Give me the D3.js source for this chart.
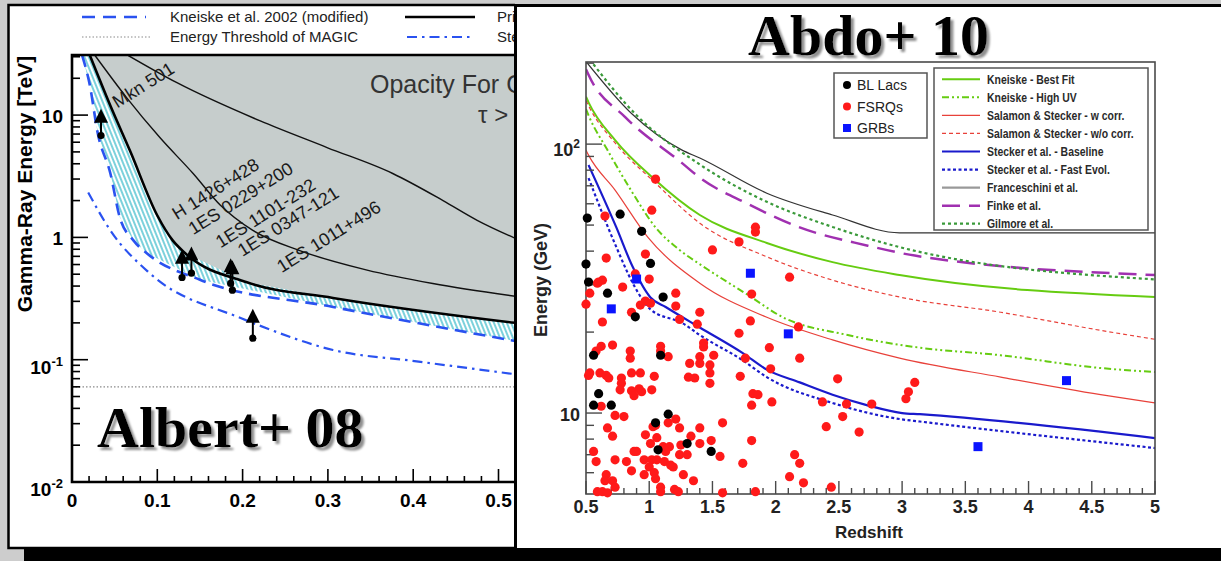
<!DOCTYPE html>
<html>
<head>
<meta charset="utf-8">
<script src="https://cdn.jsdelivr.net/npm/d3@7"></script>
<style>
  body { margin: 0; background: #cdcdcd; overflow: hidden; }
  svg { display: block; font-family: "Liberation Sans", Arial, sans-serif; }
</style>
</head>
<body>
<svg></svg>
<script>
// ---------- left panel : Albert+ 08 (redshift vs energy in TeV)
const albertKneiske = [[0.012,30.7],[0.021,17.4],[0.030,7.2],[0.045,3.33],[0.056,1.46],[0.072,0.945],[0.088,0.74],[0.15,0.45],[0.306,0.27],[0.52,0.142]];
const albertPrimack = [[0.021,30.7],[0.045,11.9],[0.068,5.1],[0.10,1.51],[0.118,0.945],[0.132,0.75],[0.205,0.43],[0.306,0.32],[0.52,0.2]];
const albertStecker = [[0.019,2.33],[0.045,1.14],[0.091,0.51],[0.197,0.22],[0.22,0.19],[0.306,0.12],[0.404,0.097],[0.52,0.076]];
const albertTauA = [[0.027,30.7],[0.064,13.9],[0.103,6.55],[0.142,3.33],[0.174,1.83],[0.212,1.14],[0.267,0.78],[0.346,0.54],[0.423,0.42],[0.52,0.33]];
const albertTauB = [[0.066,30.7],[0.123,18.4],[0.220,9.0],[0.299,5.43],[0.376,3.33],[0.435,2.0],[0.475,1.38],[0.52,0.98]];
const magicThreshold = 0.06;

const albertSources = [
  { name: "Mkn 501",      z: 0.034, e: 6.8,  lim: 9.5  },
  { name: "H 1426+428",   z: 0.129, e: 0.47, lim: 0.67 },
  { name: "1ES 0229+200", z: 0.140, e: 0.51, lim: 0.71 },
  { name: "1ES 1101-232", z: 0.186, e: 0.42, lim: 0.57 },
  { name: "1ES 0347-121", z: 0.188, e: 0.37, lim: 0.55 },
  { name: "1ES 1011+496", z: 0.212, e: 0.15, lim: 0.22 }
];
// where each source name is written (z, TeV)
const albertLabelAt = [[0.053,11.3],[0.123,1.38],[0.142,1.04],[0.174,0.81],[0.200,0.69],[0.246,0.51]];

const albertXTicks = [0, 0.1, 0.2, 0.3, 0.4, 0.5];
const albertXLabels = ["0", "0.1", "0.2", "0.3", "0.4", "0.5"];
const albertYTicks = [0.01, 0.1, 1, 10];
const albertYLabels = [["10","-2"], ["10","-1"], ["1",""], ["10",""]];
const albertLegend = ["Kneiske et al. 2002 (modified)", "Primack et al. 2005", "Energy Threshold of MAGIC", "Stecker et al. 2006"];

// ---------- right panel : Abdo+ 10 (redshift vs energy in GeV)
const abdoModels = ["Kneiske - Best Fit", "Kneiske - High UV", "Salamon & Stecker - w corr.", "Salamon & Stecker - w/o corr.",
  "Stecker et al. - Baseline", "Stecker et al. - Fast Evol.", "Franceschini et al.", "Finke et al.", "Gilmore et al."];

const kneiskeBest = [[0.5,150],[0.52,143],[0.73,103.5],[1.03,74.8],[1.40,54.5],[1.93,42.9],[2.45,36.4],[2.98,32.6],[5.0,27]];
const kneiskeHighUV = [[0.5,135],[0.52,128],[0.67,95],[0.87,65.7],[1.05,49],[1.24,40.4],[1.43,35],[1.78,27.5],[2.05,22.8],[2.57,19.5],[3.1,17.6],[3.78,16.4],[4.57,14.7],[5.0,14.2]];
const salamonCorr = [[0.5,95],[0.52,91],[0.73,67.5],[0.99,45],[1.40,30.4],[1.93,22.7],[2.45,18.7],[2.98,16.0],[3.78,13.6],[4.57,11.7],[5.0,10.9]];
const salamonNoCorr = [[0.5,145],[0.53,136],[0.73,101],[1.05,71.6],[1.40,50.8],[1.93,38.1],[2.45,31.2],[2.98,27.0],[3.78,23.7],[4.57,20.3],[5.0,18.8]];
const steckerBase = [[0.52,83.6],[0.74,49],[0.87,34.9],[1.01,26.9],[1.13,24.8],[1.40,20.8],[1.74,16.7],[1.93,14.5],[2.19,13.0],[2.45,11.7],[2.72,10.7],[3.0,10.0],[3.14,9.9],[5.0,8.07]];
const steckerFast = [[0.52,74.8],[0.74,41.4],[0.87,30.4],[1.01,24.3],[1.27,21.5],[1.40,19.5],[1.74,15.7],[1.93,13.6],[2.45,10.9],[2.98,9.5],[3.14,9.3],[5.0,7.41]];
const franceschini = [[0.5,203],[0.86,130],[1.26,95],[1.40,88.8],[1.93,65.7],[2.45,54.5],[2.98,46.8],[5.0,46.8]];
const finke = [[0.5,190],[0.52,181],[0.81,126],[1.26,85],[1.40,75],[1.78,60],[2.19,49],[2.72,42],[3.1,38.5],[5.0,32.6]];
const gilmore = [[0.5,215],[0.9,128],[1.4,84],[1.93,61],[2.45,49.2],[2.98,41.4],[5.0,31.4]];
const abdoCurves = [kneiskeBest, kneiskeHighUV, salamonCorr, salamonNoCorr, steckerBase, steckerFast, franceschini, finke, gilmore];

const blLacs = [[0.51,53.1],[0.77,54.9],[0.94,47.4],[0.50,35.8],[1.01,36.0],[0.52,30.7],[0.67,27.9],[1.11,27.0],[0.89,22.8],
  [0.56,16.4],[1.09,16.4],[0.60,11.8],[0.56,10.7],[0.70,10.7],[1.15,9.9],[1.05,9.2],[1.07,7.3],[1.30,7.7],[1.49,7.2]];

const fsrqs = [[1.05,74.1],[1.02,56.8],[0.65,54.0],[0.66,37.7],[0.97,39.0],[1.00,31.5],[0.60,30.7],[0.63,31.2],[0.59,30.4],[0.79,29.4],
  [0.53,27.9],[0.50,25.4],[1.21,27.9],[1.21,25.0],[0.97,26.1],[0.93,25.2],[1.01,25.6],[0.86,23.7],[0.63,21.8],[1.24,22.3],[1.38,21.4],
  [1.40,23.7],[0.89,32.9],[0.58,17.0],[0.62,17.7],[0.71,17.9],[0.85,17.0],[0.85,16.0],[1.09,17.7],[1.09,17.0],[1.15,16.2],[1.32,15.3],
  [1.40,16.2],[1.40,15.3],[0.52,13.8],[0.53,14.1],[0.61,14.1],[0.66,13.8],[0.68,13.5],[0.78,13.5],[0.78,12.9],[0.77,12.2],[0.86,14.1],
  [0.93,14.1],[1.04,13.7],[0.86,12.1],[0.88,11.6],[0.92,12.3],[0.94,12.0],[1.02,12.2],[1.31,13.6],[1.36,13.5],[0.62,10.6],[0.73,9.8],
  [0.80,9.7],[0.67,8.8],[0.71,8.2],[1.21,9.5],[1.24,8.8],[1.15,9.2],[1.03,8.9],[1.05,9.0],[0.97,8.3],[1.06,8.1],[1.01,7.7],[1.33,8.2],
  [1.40,8.8],[1.40,7.7],[1.11,7.5],[1.16,7.5],[1.13,7.2],[1.25,7.6],[1.24,7.0],[1.30,7.0],[0.56,7.2],[0.58,6.6],[0.73,6.7],[0.82,6.6],
  [0.88,7.2],[0.90,7.2],[0.96,6.7],[1.02,6.7],[1.06,6.7],[1.12,6.6],[1.00,6.3],[1.04,6.0],[1.05,5.7],[1.19,6.3],[1.17,6.4],[0.86,6.1],
  [0.96,5.9],[0.66,5.9],[0.65,5.6],[0.71,5.6],[0.73,5.3],[1.27,5.9],[1.35,5.6],[0.59,5.1],[0.63,5.1],[0.67,5.05],[1.09,5.3],[1.09,5.1],
  [1.20,5.2],[1.23,5.1],[1.84,49.1],[1.84,47.1],[1.71,43.3],[1.50,40.4],[2.11,32.0],[1.81,27.7],[1.80,22.0],[1.71,19.8],[2.18,20.9],
  [1.43,18.2],[1.43,17.6],[1.51,16.4],[1.95,17.5],[1.76,16.0],[2.19,16.0],[1.96,14.6],[1.48,15.1],[1.48,14.1],[1.48,12.9],[1.72,13.7],
  [2.49,13.4],[1.82,11.8],[1.86,11.7],[1.81,10.7],[1.97,11.0],[2.37,11.0],[2.56,10.8],[2.76,10.8],[2.53,9.7],[2.40,8.9],[2.66,8.5],
  [1.58,9.2],[1.49,7.9],[1.81,7.9],[1.56,6.9],[1.74,6.5],[2.15,7.0],[2.19,6.5],[2.11,5.8],[2.22,5.5],[2.44,5.3],[1.58,5.05],[1.84,5.1],
  [3.10,13.0],[3.05,12.0],[3.03,11.3]];

const grbs = [[0.90,31.5],[0.70,24.4],[1.80,33.1],[2.10,19.7],[4.30,13.2],[3.60,7.5]];

const abdoXTicks = [0.5, 1, 1.5, 2, 2.5, 3, 3.5, 4, 4.5, 5];
const abdoYTicks = [10, 100];
const abdoYLabels = [["10",""], ["10","2"]];
const sourceClasses = ["BL Lacs", "FSRQs", "GRBs"];

// ---------- styles
const modelStyle = [
  { color: "#66cc11", width: 2,   dash: null },
  { color: "#66cc11", width: 2,   dash: "7,3,2,3,2,3" },
  { color: "#e8413a", width: 1.2, dash: null },
  { color: "#e8413a", width: 1.2, dash: "4,3" },
  { color: "#1a1acc", width: 2.2, dash: null },
  { color: "#1a1acc", width: 2.2, dash: "3,2.5" },
  { color: "#333333", width: 1.2, dash: null, legend: "#999999" },
  { color: "#a030b0", width: 2.5, dash: "18,9" },
  { color: "#3a9a3a", width: 2.2, dash: "3,3" }
];
const blue = "#2a52f0";

const svg = d3.select("svg").attr("width", 1221).attr("height", 561);
const defs = svg.append("defs");

defs.append("clipPath").attr("id", "leftPanelClip")
  .append("rect").attr("x", 0).attr("y", 0).attr("width", 515).attr("height", 561);
defs.append("clipPath").attr("id", "albertPlotClip")
  .append("rect").attr("x", 72).attr("y", 55).attr("width", 512).attr("height", 427);
defs.append("clipPath").attr("id", "abdoPlotClip")
  .append("rect").attr("x", 586).attr("y", 62).attr("width", 569).attr("height", 432);

const hatch = defs.append("pattern").attr("id", "hatch")
  .attr("patternUnits", "userSpaceOnUse").attr("width", 4).attr("height", 4)
  .attr("patternTransform", "rotate(-22)");
hatch.append("rect").attr("width", 4).attr("height", 4).attr("fill", "white");
hatch.append("line").attr("x1", 1).attr("y1", -1).attr("x2", 1).attr("y2", 5)
  .attr("stroke", "#35b9c9").attr("stroke-width", 1.3);

// soft grey drop shadow for the big titles
defs.append("filter").attr("id", "titleShadow").attr("x", "-10%").attr("y", "-20%")
  .attr("width", "130%").attr("height", "150%")
  .append("feDropShadow").attr("dx", 3).attr("dy", 3).attr("stdDeviation", 0.8)
  .attr("flood-color", "#8f8f8f").attr("flood-opacity", 1);

svg.append("rect").attr("width", 1221).attr("height", 561).attr("fill", "#cdcdcd");

function titleText(g, x, y, txt, size) {
  g.append("text").attr("x", x).attr("y", y).text(txt)
    .attr("font-family", "'Liberation Serif', 'Times New Roman', serif")
    .attr("font-weight", "bold").attr("font-size", size).attr("fill", "black")
    .attr("filter", "url(#titleShadow)");
}

// =============== Albert+ 08
function drawAlbert() {
  const g = svg.append("g").attr("clip-path", "url(#leftPanelClip)");
  g.append("rect").attr("x", 8.5).attr("y", 5).attr("width", 700).attr("height", 543)
    .attr("fill", "white").attr("stroke", "black").attr("stroke-width", 2.5);

  const x = d3.scaleLinear().domain([0, 0.6]).range([72, 72 + 0.6 * 853]);
  const y = d3.scaleLog().domain([0.01, 31]).range([482, 55]);
  const line = d3.line().x(d => x(d[0])).y(d => y(d[1])).curve(d3.curveMonotoneX);
  const plot = g.append("g").attr("clip-path", "url(#albertPlotClip)");

  // opaque region above the black curve
  plot.append("path")
    .datum(albertPrimack)
    .attr("d", d3.area().x(d => x(d[0])).y0(y.range()[1]).y1(d => y(d[1])).curve(d3.curveMonotoneX))
    .attr("fill", "#c6cdcc");

  // hatched band between Kneiske and the black curve
  plot.append("path")
    .datum(albertKneiske.concat(albertPrimack.slice().reverse()))
    .attr("d", d3.line().x(d => x(d[0])).y(d => y(d[1])))
    .attr("fill", "url(#hatch)");

  plot.append("line").attr("x1", x(0)).attr("x2", x(0.6))
    .attr("y1", y(magicThreshold)).attr("y2", y(magicThreshold))
    .attr("stroke", "#8a8a8a").attr("stroke-width", 1.2).attr("stroke-dasharray", "1.5,2");

  [albertTauA, albertTauB].forEach(c => {
    plot.append("path").datum(c).attr("d", line)
      .attr("fill", "none").attr("stroke", "#111").attr("stroke-width", 1.4);
  });
  plot.append("path").datum(albertPrimack).attr("d", line)
    .attr("fill", "none").attr("stroke", "black").attr("stroke-width", 2.6);
  plot.append("path").datum(albertKneiske).attr("d", line)
    .attr("fill", "none").attr("stroke", blue).attr("stroke-width", 2.6).attr("stroke-dasharray", "12,7");
  plot.append("path").datum(albertStecker).attr("d", line)
    .attr("fill", "none").attr("stroke", blue).attr("stroke-width", 2.2).attr("stroke-dasharray", "10,5,2.5,5");

  // source names
  albertSources.forEach((s, i) => {
    const p = albertLabelAt[i];
    g.append("text")
      .attr("transform", `translate(${x(p[0])},${y(p[1])}) rotate(-32)`)
      .attr("font-size", 18).attr("fill", "#1a1a1a").text(s.name);
  });

  // frame and ticks
  g.append("path").attr("d", `M${x(0.6)},55 H72 V482 H${x(0.6)}`)
    .attr("fill", "none").attr("stroke", "black").attr("stroke-width", 2.6);
  const ticks = g.append("g").attr("stroke", "black").attr("stroke-width", 1.6);
  d3.range(0, 0.61, 0.02).forEach(v => {
    const major = Math.abs(v * 10 - Math.round(v * 10)) < 1e-6;
    ticks.append("line").attr("x1", x(v)).attr("x2", x(v))
      .attr("y1", 482).attr("y2", major ? 469 : 476);
  });
  [-2, -1, 0, 1].forEach(k => {
    d3.range(1, 10).forEach(m => {
      const v = m * Math.pow(10, k);
      if (v > 31) return;
      ticks.append("line").attr("y1", y(v)).attr("y2", y(v))
        .attr("x1", 72).attr("x2", m === 1 ? 88 : 80);
    });
  });

  albertXTicks.forEach((v, i) => {
    g.append("text").attr("x", x(v)).attr("y", 507).attr("text-anchor", "middle")
      .attr("font-size", 19).attr("font-weight", "bold").text(albertXLabels[i]);
  });
  albertYTicks.forEach((v, i) => {
    const lab = albertYLabels[i];
    const t = g.append("text").attr("x", 63).attr("text-anchor", "end")
      .attr("font-size", 19).attr("font-weight", "bold");
    if (lab[1]) {
      t.attr("y", y(v) + 14);
      t.append("tspan").text(lab[0]);
      t.append("tspan").attr("dy", -8).attr("font-size", 13).text(lab[1]);
    } else {
      t.attr("y", y(v) + 8).text(lab[0]);
    }
  });

  g.append("text").attr("transform", "translate(32,184) rotate(-90)")
    .attr("text-anchor", "middle").attr("font-size", 21).attr("font-weight", "bold")
    .text("Gamma-Ray Energy [TeV]");

  g.append("text").attr("x", 370).attr("y", 93).attr("font-size", 25).attr("fill", "#333")
    .text("Opacity For Gamma Rays");
  g.append("text").attr("x", 478).attr("y", 123).attr("font-size", 24).attr("fill", "#333")
    .text("τ > 1");

  // lower limits: dot, stem, arrow head
  albertSources.forEach(s => {
    const cx = x(s.z), y0 = y(s.e), y1 = y(s.lim);
    g.append("line").attr("x1", cx).attr("x2", cx).attr("y1", y0).attr("y2", y1)
      .attr("stroke", "black").attr("stroke-width", 2);
    g.append("circle").attr("cx", cx).attr("cy", y0).attr("r", 3.6).attr("fill", "black");
    g.append("path").attr("d", `M${cx},${y1 - 9} L${cx + 7},${y1 + 5} L${cx - 7},${y1 + 5} Z`)
      .attr("fill", "black");
  });

  // legend on top
  const lg = g.append("g").attr("font-size", 15).attr("fill", "#222");
  lg.append("line").attr("x1", 82).attr("x2", 146).attr("y1", 17).attr("y2", 17)
    .attr("stroke", blue).attr("stroke-width", 2.6).attr("stroke-dasharray", "13,8");
  lg.append("line").attr("x1", 405).attr("x2", 475).attr("y1", 17).attr("y2", 17)
    .attr("stroke", "black").attr("stroke-width", 2.6);
  lg.append("line").attr("x1", 82).attr("x2", 152).attr("y1", 37).attr("y2", 37)
    .attr("stroke", "#8a8a8a").attr("stroke-width", 1.2).attr("stroke-dasharray", "1.5,2");
  lg.append("line").attr("x1", 407).attr("x2", 473).attr("y1", 37).attr("y2", 37)
    .attr("stroke", blue).attr("stroke-width", 2.2).attr("stroke-dasharray", "10,5,2.5,5");
  [[170, 22], [497, 22], [170, 42], [497, 42]].forEach((p, i) => {
    lg.append("text").attr("x", p[0]).attr("y", p[1]).text(albertLegend[i]);
  });

  titleText(g, 97, 447, "Albert+ 08", 58);
}

// =============== Abdo+ 10
function drawAbdo() {
  const g = svg.append("g");
  g.append("rect").attr("x", 515).attr("y", 4).attr("width", 706).attr("height", 544).attr("fill", "white");
  g.append("line").attr("x1", 515.5).attr("x2", 515.5).attr("y1", 4).attr("y2", 548)
    .attr("stroke", "black").attr("stroke-width", 3);
  g.append("line").attr("x1", 515).attr("x2", 1221).attr("y1", 5.5).attr("y2", 5.5)
    .attr("stroke", "black").attr("stroke-width", 3);

  const x = d3.scaleLinear().domain([0.5, 5]).range([586, 1155]);
  const y = d3.scaleLog().domain([5, 202]).range([494, 62]);
  const line = d3.line().x(d => x(d[0])).y(d => y(d[1])).curve(d3.curveMonotoneX);

  const plot = g.append("g").attr("clip-path", "url(#abdoPlotClip)");
  abdoCurves.forEach((c, i) => {
    const st = modelStyle[i];
    plot.append("path").datum(c).attr("d", line)
      .attr("fill", "none").attr("stroke", st.color).attr("stroke-width", st.width)
      .attr("stroke-dasharray", st.dash);
  });

  // frame and ticks
  g.append("rect").attr("x", 586).attr("y", 62).attr("width", 569).attr("height", 432)
    .attr("fill", "none").attr("stroke", "#4a4a4a").attr("stroke-width", 1.6);
  const ticks = g.append("g").attr("stroke", "#4a4a4a").attr("stroke-width", 1.4);
  d3.range(5, 51).forEach(k => {
    const v = k / 10;
    ticks.append("line").attr("x1", x(v)).attr("x2", x(v))
      .attr("y1", 494).attr("y2", k % 5 === 0 ? 481 : 488);
  });
  [0, 1, 2].forEach(k => {
    d3.range(1, 10).forEach(m => {
      const v = m * Math.pow(10, k);
      if (v <= 5 || v > 202) return;
      ticks.append("line").attr("y1", y(v)).attr("y2", y(v))
        .attr("x1", 586).attr("x2", m === 1 ? 602 : 594);
    });
  });

  abdoXTicks.forEach(v => {
    g.append("text").attr("x", x(v)).attr("y", 513).attr("text-anchor", "middle")
      .attr("font-size", 18).attr("font-weight", "bold").attr("fill", "#222").text(v);
  });
  abdoYTicks.forEach((v, i) => {
    const lab = abdoYLabels[i];
    const t = g.append("text").attr("x", 580).attr("text-anchor", "end")
      .attr("font-size", 18).attr("font-weight", "bold").attr("fill", "#222");
    if (lab[1]) {
      t.attr("y", y(v) + 12);
      t.append("tspan").text(lab[0]);
      t.append("tspan").attr("dy", -8).attr("font-size", 12).text(lab[1]);
    } else {
      t.attr("y", y(v) + 8).text(lab[0]);
    }
  });
  g.append("text").attr("x", 903).attr("y", 538).attr("text-anchor", "end")
    .attr("font-size", 17).attr("font-weight", "bold").attr("fill", "#222").text("Redshift");
  g.append("text").attr("transform", "translate(547,280) rotate(-90)").attr("text-anchor", "middle")
    .attr("font-size", 18).attr("font-weight", "bold").attr("fill", "#222").text("Energy (GeV)");

  // sources
  const pts = g.append("g");
  pts.selectAll("circle.fsrq").data(fsrqs).join("circle").attr("class", "fsrq")
    .attr("cx", d => x(d[0])).attr("cy", d => y(d[1])).attr("r", 4.6).attr("fill", "#ff1a1a");
  pts.selectAll("circle.bll").data(blLacs).join("circle").attr("class", "bll")
    .attr("cx", d => x(d[0])).attr("cy", d => y(d[1])).attr("r", 4.6).attr("fill", "black");
  pts.selectAll("rect.grb").data(grbs).join("rect").attr("class", "grb")
    .attr("x", d => x(d[0]) - 4.5).attr("y", d => y(d[1]) - 4.5)
    .attr("width", 9).attr("height", 9).attr("fill", "#0a14ff");

  // legend: source classes
  g.append("rect").attr("x", 834).attr("y", 73).attr("width", 93).attr("height", 65)
    .attr("fill", "white").attr("stroke", "#555").attr("stroke-width", 1.5);
  const classColor = ["black", "#ff1a1a", "#0a14ff"];
  sourceClasses.forEach((name, i) => {
    const cy = 85 + i * 21.5;
    if (i < 2) {
      g.append("circle").attr("cx", 847).attr("cy", cy).attr("r", 4).attr("fill", classColor[i]);
    } else {
      g.append("rect").attr("x", 843).attr("y", cy - 4).attr("width", 8).attr("height", 8).attr("fill", classColor[i]);
    }
    g.append("text").attr("x", 857).attr("y", cy + 5).attr("font-size", 14).attr("fill", "#222").text(name);
  });

  // legend: models (condensed text)
  g.append("rect").attr("x", 934).attr("y", 68).attr("width", 214).attr("height", 162)
    .attr("fill", "white").attr("stroke", "#555").attr("stroke-width", 1.5);
  abdoModels.forEach((name, i) => {
    const st = modelStyle[i];
    const cy = 79.3 + i * 18.05;
    g.append("line").attr("x1", 942).attr("x2", 980).attr("y1", cy).attr("y2", cy)
      .attr("stroke", st.legend || st.color).attr("stroke-width", st.legend ? 2.2 : st.width)
      .attr("stroke-dasharray", st.dash);
    g.append("text").attr("transform", `translate(987,${cy + 4.5}) scale(0.87,1)`)
      .attr("font-size", 12).attr("font-weight", "bold").attr("fill", "#2a2a2a").text(name);
  });

  titleText(g, 748, 55, "Abdo+ 10", 58);
}

drawAlbert();
drawAbdo();

// drop shadow under both panels
svg.append("rect").attr("x", 24).attr("y", 548).attr("width", 1197).attr("height", 13).attr("fill", "black");
</script>
</body>
</html>
